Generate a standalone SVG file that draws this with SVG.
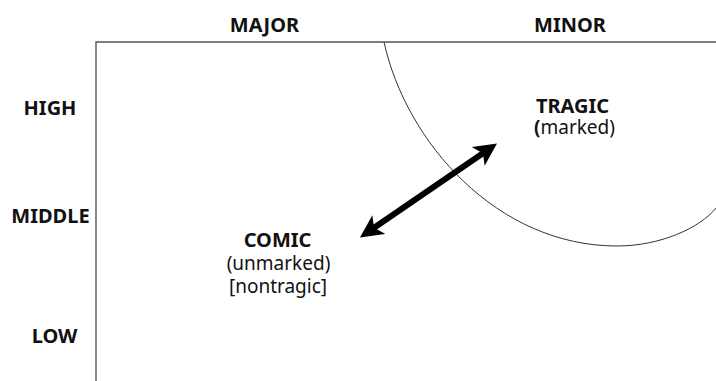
<svg xmlns="http://www.w3.org/2000/svg" width="716" height="381" viewBox="0 0 716 381">
  <style>
    .axis { fill: none; stroke: #555; stroke-width: 1.4; }
    .arc { fill: none; stroke: #333; stroke-width: 1; }
    .head { font-family: "Noto Sans", "Open Sans", sans-serif; font-weight: bold; font-size: 20px; fill: #111; text-anchor: middle; }
    .sub { font-family: "Noto Sans", "Open Sans", sans-serif; font-size: 19px; fill: #111; text-anchor: middle; }
    .arrow { stroke: #000; stroke-width: 6; fill: none; }
  </style>
  <defs>
    <marker id="tip" viewBox="0 0 10 10" refX="6" refY="5" markerWidth="3.8" markerHeight="3.8" orient="auto-start-reverse" markerUnits="strokeWidth">
      <path d="M0,0 L10,5 L0,10 L2.5,5 Z" fill="#000"/>
    </marker>
  </defs>
  <rect width="716" height="381" fill="#fff"/>

  <!-- frame axes -->
  <g id="axes">
    <path class="axis" d="M96,381 V42 H716"/>
  </g>

  <!-- column headings -->
  <g id="col-major"><text class="head" x="264.5" y="31.5">MAJOR</text></g>
  <g id="col-minor"><text class="head" x="570" y="31.5">MINOR</text></g>

  <!-- row headings -->
  <g id="row-high"><text class="head" x="50" y="115">HIGH</text></g>
  <g id="row-middle"><text class="head" x="50.5" y="222.5">MIDDLE</text></g>
  <g id="row-low"><text class="head" x="54.5" y="343">LOW</text></g>

  <!-- tragic region -->
  <g id="tragic-region">
    <path class="arc" d="M384,42 C406,142 497,246 617,246 C660,246 700,228 716,208"/>
  </g>

  <g id="tragic">
    <text class="head" x="572.5" y="112.5">TRAGIC</text>
    <text class="sub" x="574.5" y="133.5"><tspan font-weight="bold">(</tspan>marked)</text>
  </g>

  <g id="comic">
    <text class="head" x="277.5" y="247">COMIC</text>
    <text class="sub" x="278.5" y="270">(unmarked)</text>
    <text class="sub" x="278" y="293">[nontragic]</text>
  </g>

  <!-- connectors -->
  <g id="connectors">
    <path class="arrow" d="M367.5,232.3 L489.5,148.7" marker-start="url(#tip)" marker-end="url(#tip)"/>
  </g>
</svg>
